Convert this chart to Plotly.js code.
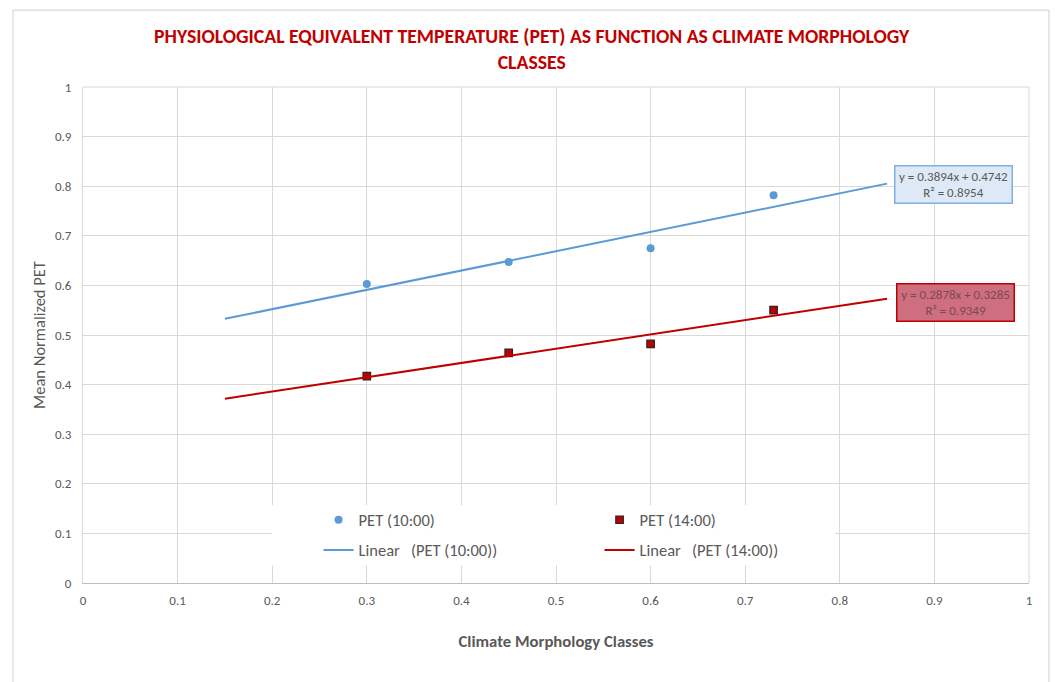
<!DOCTYPE html>
<html>
<head>
<meta charset="utf-8">
<script src="https://cdn.plot.ly/plotly-3.0.1.min.js"></script>
<style>
html,body{margin:0;padding:0;background:#fff;}
#chart{width:1055px;height:682px;}
</style>
</head>
<body>
<div id="chart"></div>
<script>
// ---- data ----
const classes = [0.3, 0.45, 0.6, 0.73];
const pet10 = [0.603, 0.647, 0.675, 0.782];
const pet14 = [0.417, 0.464, 0.482, 0.550];
// Excel linear trendline coefficients shown on chart: [slope, intercept, R2]
const fit10 = [0.3894, 0.4742, 0.8954];
const fit14 = [0.2878, 0.3285, 0.9349];
const trendExtent = [0.15, 0.85];
const xTicks = [0, 0.1, 0.2, 0.3, 0.4, 0.5, 0.6, 0.7, 0.8, 0.9, 1];
const yTicks = [0, 0.1, 0.2, 0.3, 0.4, 0.5, 0.6, 0.7, 0.8, 0.9, 1];
const names = ['PET (10:00)', 'PET (14:00)'];

const BLUE = '#5b9bd5', RED = '#c00000', GRAY = '#595959';
const FONT = 'Carlito, Calibri, "Liberation Sans Narrow", "Liberation Sans", Arial, sans-serif';

const lin = (f) => trendExtent.map(x => f[0] * x + f[1]);
const eq = (f) => 'y = ' + f[0].toFixed(4) + 'x + ' + f[1].toFixed(4) + '<br>R² = ' + f[2].toFixed(4);

const traces = [
  {x: classes, y: pet10, name: names[0], type: 'scatter', mode: 'markers',
   marker: {symbol: 'circle', size: 8, color: BLUE}, legend: 'legend'},
  {x: classes, y: pet14, name: names[1], type: 'scatter', mode: 'markers',
   marker: {symbol: 'square', size: 7.5, color: RED, line: {color: '#262626', width: 1.2}}, legend: 'legend'},
  {x: trendExtent, y: lin(fit10), name: 'Linear\u00a0\u00a0\u00a0(' + names[0] + ')', type: 'scatter', mode: 'lines',
   line: {color: BLUE, width: 2}, legend: 'legend2'},
  {x: trendExtent, y: lin(fit14), name: 'Linear\u00a0\u00a0\u00a0(' + names[1] + ')', type: 'scatter', mode: 'lines',
   line: {color: RED, width: 2}, legend: 'legend2'}
];

const legendCommon = {orientation: 'h', xanchor: 'left', yanchor: 'middle',
  entrywidth: 236, entrywidthmode: 'pixels', bgcolor: 'rgba(0,0,0,0)',
  font: {family: FONT, size: 16.5, color: GRAY}, itemwidth: 30};

const layout = {
  width: 1055, height: 682,
  paper_bgcolor: '#fff', plot_bgcolor: '#fff',
  margin: {l: 83, r: 26, t: 87, b: 99},
  font: {family: FONT, color: GRAY},
  showlegend: true,
  title: {text: 'PHYSIOLOGICAL EQUIVALENT TEMPERATURE (PET) AS FUNCTION AS CLIMATE MORPHOLOGY<br>CLASSES',
    x: 0.504, xanchor: 'center', xref: 'container', y: 0.937, yanchor: 'top', yref: 'container',
    font: {family: FONT, size: 19.7, color: RED, weight: 'bold'}},
  xaxis: {range: [0, 1], tickvals: xTicks, ticktext: xTicks.map(String), showgrid: true,
    gridcolor: '#d9d9d9', gridwidth: 1, zeroline: false, showline: true, linecolor: '#bfbfbf', linewidth: 1,
    mirror: false, ticks: '', ticklabelstandoff: 5, tickfont: {family: FONT, size: 13, color: GRAY},
    title: {text: '<b>Climate Morphology Classes</b>', standoff: 28, font: {family: FONT, size: 16.7, color: GRAY}},
    fixedrange: true},
  yaxis: {range: [0, 1], tickvals: yTicks, ticktext: yTicks.map(String), showgrid: true,
    gridcolor: '#d9d9d9', gridwidth: 1, zeroline: false, showline: true, linecolor: '#d9d9d9', linewidth: 1,
    ticks: '', ticklen: 0, ticklabelstandoff: 8, tickfont: {family: FONT, size: 13, color: GRAY},
    title: {text: 'Mean Normalized PET', standoff: 5, font: {family: FONT, size: 16.5, color: GRAY}},
    fixedrange: true},
  legend: Object.assign({}, legendCommon, {x: 0.249, y: 0.127}),
  legend2: Object.assign({}, legendCommon, {x: 0.249, y: 0.066}),
  shapes: [
    // outer chart frame
    {type: 'rect', xref: 'paper', yref: 'paper', x0: -0.074, x1: 1.0211, y0: -0.25, y1: 1.155,
     line: {color: '#cfcfcf', width: 1}, fillcolor: 'rgba(0,0,0,0)', layer: 'above'},
    // plot-area top / right border
    {type: 'line', xref: 'paper', yref: 'paper', x0: 0, x1: 1, y0: 1, y1: 1, line: {color: '#d9d9d9', width: 1}},
    {type: 'line', xref: 'paper', yref: 'paper', x0: 1, x1: 1, y0: 0, y1: 1, line: {color: '#d9d9d9', width: 1}},
    // legend background
    {type: 'rect', xref: 'paper', yref: 'paper', x0: 0.1998, x1: 0.795, y0: 0.036, y1: 0.157,
     line: {width: 0}, fillcolor: '#ffffff', layer: 'above'}
  ],
  annotations: [
    {x: 0.92, y: 0.803, xref: 'x', yref: 'y', text: eq(fit10), showarrow: false, align: 'center',
     xanchor: 'center', yanchor: 'middle', font: {family: FONT, size: 13, color: GRAY},
     bgcolor: '#dde9f6', bordercolor: '#7fb0de', borderwidth: 1.5, borderpad: 2, width: 112},
    {x: 0.922, y: 0.566, xref: 'x', yref: 'y', text: eq(fit14), showarrow: false, align: 'center',
     xanchor: 'center', yanchor: 'middle', font: {family: FONT, size: 13, color: '#7a4a52'},
     bgcolor: '#cf6e7e', bordercolor: '#c00000', borderwidth: 1.5, borderpad: 2, width: 112}
  ]
};

Plotly.newPlot('chart', traces, layout, {displayModeBar: false, staticPlot: true});
</script>
</body>
</html>
